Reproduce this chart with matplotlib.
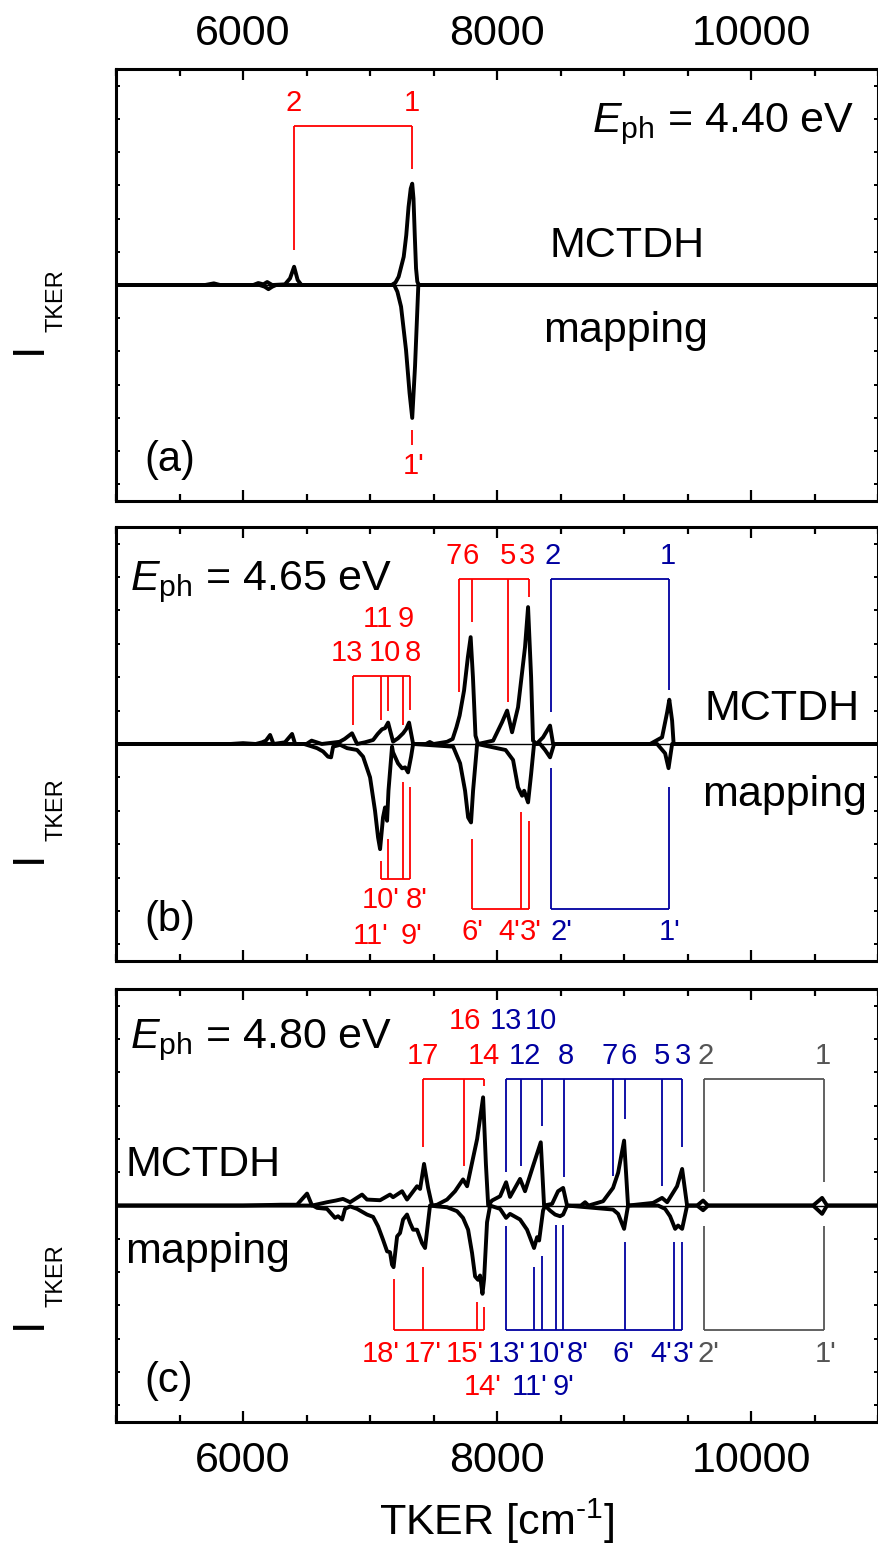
import numpy as np
import matplotlib.pyplot as plt
from matplotlib import font_manager
from matplotlib.ticker import MultipleLocator

plt.rcParams['font.family'] = ['Liberation Sans', 'DejaVu Sans']
plt.rcParams['mathtext.fontset'] = 'custom'
plt.rcParams['mathtext.rm'] = 'Liberation Sans'
plt.rcParams['mathtext.it'] = 'Liberation Sans:italic'
plt.rcParams['mathtext.bf'] = 'Liberation Sans:bold'

RED = '#ff0000'
BLUE = '#0000a0'
GRAY = '#555555'

# narrow face for the peak labels if it is there
installed = {f.name for f in font_manager.fontManager.ttflist}
if 'Liberation Sans Narrow' in installed:
    LABEL_FONT, LABEL_SIZE = 'Liberation Sans Narrow', 25
else:
    LABEL_FONT, LABEL_SIZE = 'Liberation Sans', 21

# ---- spectra (TKER in cm^-1, intensity in arbitrary units) ----
mctdh_a = [(5000, 0), (5700, 0), (5770, 0.01), (5820, 0), (6080, 0), (6120, 0.012),
           (6160, 0.004), (6190, 0.018), (6230, 0), (6330, 0.004), (6370, 0.04),
           (6402, 0.11), (6430, 0.03), (6460, 0), (7170, 0), (7200, 0.015), (7225, 0.05),
           (7265, 0.17), (7285, 0.30), (7303, 0.47), (7320, 0.58), (7332, 0.61),
           (7342, 0.52), (7352, 0.30), (7362, 0.10), (7372, 0.02), (7385, 0), (11000, 0)]
mapping_a = [(5000, 0), (6130, 0), (6170, -0.01), (6200, -0.025), (6230, -0.01), (6260, 0),
             (7190, 0), (7215, -0.04), (7244, -0.13), (7283, -0.39), (7311, -0.65),
             (7332, -0.80), (7354, -0.49), (7370, -0.19), (7380, 0), (11000, 0)]

mctdh_b = [(5000, 0), (5900, 0), (6000, 0.005), (6100, 0), (6150, 0.01), (6180, 0.02),
           (6213, 0.054), (6240, 0), (6330, 0.01), (6386, 0.06), (6410, 0), (6500, 0),
           (6540, 0.02), (6580, 0.01), (6620, 0), (6760, 0.013), (6800, 0.03), (6858, 0.064),
           (6898, 0), (6960, 0.01), (7024, 0.024), (7060, 0.06), (7094, 0.088), (7118, 0.095),
           (7142, 0.128), (7181, 0.014), (7220, 0.034), (7260, 0.064), (7285, 0.09),
           (7307, 0.128), (7339, 0), (7440, 0), (7470, 0.012), (7500, 0), (7606, 0.013),
           (7650, 0.03), (7680, 0.10), (7705, 0.17), (7740, 0.32), (7770, 0.52), (7792, 0.64),
           (7810, 0.40), (7830, 0.05), (7850, 0), (7969, 0.02), (8039, 0.13), (8079, 0.20),
           (8118, 0.07), (8165, 0.22), (8220, 0.58), (8244, 0.82), (8268, 0.40), (8283, 0.02),
           (8310, 0), (8362, 0.04), (8417, 0.11), (8441, 0), (9205, 0), (9299, 0.04),
           (9339, 0.19), (9356, 0.265), (9378, 0.14), (9390, 0), (11000, 0)]
mapping_b = [(5000, 0), (6480, 0), (6530, -0.012), (6583, -0.025), (6630, -0.045),
             (6669, -0.076), (6693, -0.08), (6709, -0.016), (6764, -0.005), (6819, -0.025),
             (6898, -0.036), (6945, -0.076), (7000, -0.20), (7039, -0.40), (7063, -0.56),
             (7079, -0.63), (7102, -0.44), (7118, -0.38), (7134, -0.46), (7145, -0.28),
             (7173, -0.016), (7181, -0.05), (7220, -0.116), (7252, -0.146), (7276, -0.14),
             (7299, -0.17), (7323, -0.076), (7339, 0), (7654, -0.016), (7709, -0.116),
             (7748, -0.28), (7772, -0.44), (7795, -0.47), (7811, -0.28), (7843, 0),
             (8067, -0.036), (8126, -0.096), (8165, -0.26), (8197, -0.31), (8213, -0.28),
             (8244, -0.35), (8268, -0.18), (8291, 0), (8339, 0), (8378, -0.036),
             (8417, -0.08), (8449, 0), (9260, 0), (9323, -0.056), (9350, -0.145),
             (9378, 0), (11000, 0)]

mctdh_c = [(5000, 0), (6000, 0), (6300, 0.005), (6425, 0.005), (6504, 0.072), (6543, 0),
           (6661, 0.02), (6730, 0.03), (6787, 0.04), (6843, 0.02), (6937, 0.066),
           (6976, 0.036), (7079, 0.032), (7157, 0.066), (7181, 0.05), (7252, 0.086),
           (7291, 0.036), (7370, 0.116), (7394, 0.10), (7425, 0.25), (7457, 0.106),
           (7488, 0), (7528, 0.005), (7606, 0.036), (7669, 0.086), (7732, 0.157),
           (7764, 0.116), (7803, 0.257), (7843, 0.40), (7890, 0.65), (7912, 0.25),
           (7930, 0), (7960, 0.03), (8024, 0.056), (8071, 0.14), (8102, 0.052), (8181, 0.16),
           (8220, 0.086), (8283, 0.237), (8344, 0.38), (8370, 0), (8433, 0.01), (8480, 0.086),
           (8520, 0.106), (8551, 0), (8660, 0), (8693, 0.02), (8720, 0), (8835, 0.026),
           (8913, 0.106), (8953, 0.197), (9000, 0.39), (9031, 0), (9228, 0.016),
           (9299, 0.046), (9339, 0.02), (9417, 0.116), (9457, 0.22), (9496, 0), (9575, 0),
           (9622, 0.03), (9661, 0), (10488, 0), (10559, 0.046), (10598, 0), (11000, 0)]
mapping_c = [(5000, 0), (6550, 0), (6583, -0.014), (6661, -0.02), (6724, -0.074),
             (6748, -0.064), (6780, -0.084), (6803, -0.02), (6843, -0.005), (6898, -0.02),
             (6976, -0.054), (7024, -0.068), (7063, -0.125), (7102, -0.205), (7134, -0.275),
             (7157, -0.28), (7173, -0.355), (7185, -0.37), (7213, -0.185), (7236, -0.165),
             (7260, -0.084), (7291, -0.054), (7315, -0.104), (7339, -0.145), (7370, -0.145),
             (7409, -0.225), (7433, -0.255), (7449, -0.15), (7472, 0), (7528, -0.005),
             (7606, -0.01), (7685, -0.034), (7732, -0.074), (7772, -0.145), (7803, -0.285),
             (7827, -0.426), (7850, -0.446), (7866, -0.42), (7885, -0.53), (7898, -0.44),
             (7921, -0.10), (7945, 0), (8024, -0.02), (8071, -0.074), (8102, -0.05),
             (8181, -0.084), (8236, -0.145), (8276, -0.225), (8291, -0.255), (8315, -0.19),
             (8331, -0.21), (8362, -0.03), (8378, 0), (8417, -0.03), (8457, -0.054),
             (8496, -0.064), (8520, -0.054), (8551, 0), (8913, -0.024), (8953, -0.05),
             (9000, -0.14), (9031, 0), (9268, 0), (9323, -0.02), (9362, -0.064),
             (9402, -0.14), (9425, -0.12), (9457, -0.14), (9496, 0), (9575, 0),
             (9622, -0.028), (9661, 0), (10488, 0), (10559, -0.05), (10598, 0), (11000, 0)]

# ---- peak assignments: (colour, bracket level, peak positions, line ends) ----
assign_a = [
    (RED, 0.96, [6402, 7331], [0.21, 0.70]),
    (RED, -0.96, [7331], [-0.87]),
]
assign_b = [
    (RED, 0.99, [7701, 7801, 8089, 8252], [0.31, 0.73, 0.25, 0.88]),
    (RED, 0.41, [6866, 7087, 7142, 7260, 7315], [0.115, 0.145, 0.20, 0.115, 0.205]),
    (BLUE, 0.99, [8423, 9354], [0.19, 0.325]),
    (RED, -0.99, [7801, 8189, 8252], [-0.57, -0.41, -0.46]),
    (RED, -0.81, [7084, 7144, 7257, 7315], [-0.70, -0.57, -0.23, -0.26]),
    (BLUE, -0.99, [8423, 9354], [-0.145, -0.26]),
]
assign_c = [
    (RED, 0.76, [7417, 7740, 7899], [0.35, 0.24, 0.72]),
    (BLUE, 0.76, [8071, 8189, 8352, 8528, 8911, 9005, 9297, 9459],
     [0.20, 0.24, 0.48, 0.17, 0.175, 0.52, 0.12, 0.35]),
    (GRAY, 0.76, [9630, 10575], [0.08, 0.14]),
    (RED, -0.75, [7189, 7417, 7840, 7899], [-0.44, -0.37, -0.58, -0.61]),
    (BLUE, -0.75, [8071, 8291, 8352, 8465, 8522, 9008, 9396, 9459],
     [-0.125, -0.37, -0.30, -0.115, -0.115, -0.22, -0.22, -0.22]),
    (GRAY, -0.75, [9630, 10575], [-0.125, -0.125]),
]

# ---- assignment labels: (x, baseline y, text, colour) ----
labels_a = [(6402, 1.05, '2', RED), (7331, 1.05, '1', RED), (7343, -1.14, "1'", RED)]
labels_b = [
    (7661, 1.08, '7', RED), (7795, 1.08, '6', RED), (8087, 1.08, '5', RED),
    (8236, 1.08, '3', RED), (8441, 1.08, '2', BLUE), (9345, 1.08, '1', BLUE),
    (6819, 0.50, '13', RED), (7118, 0.50, '10', RED), (7339, 0.50, '8', RED),
    (7063, 0.70, '11', RED), (7283, 0.70, '9', RED),
    (7087, -0.985, "10'", RED), (7370, -0.985, "8'", RED),
    (7008, -1.20, "11'", RED), (7323, -1.20, "9'", RED),
    (7803, -1.175, "6'", RED), (8094, -1.175, "4'", RED), (8268, -1.175, "3'", RED),
    (8504, -1.175, "2'", BLUE), (9362, -1.175, "1'", BLUE),
]
labels_c = [
    (7417, 0.85, '17', RED), (7898, 0.85, '14', RED), (7748, 1.06, '16', RED),
    (8220, 0.85, '12', BLUE), (8543, 0.85, '8', BLUE), (8890, 0.85, '7', BLUE),
    (9032, 0.85, '6', BLUE), (9299, 0.85, '5', BLUE), (9465, 0.85, '3', BLUE),
    (8071, 1.06, '13', BLUE), (8347, 1.06, '10', BLUE),
    (9638, 0.85, '2', GRAY), (10567, 0.85, '1', GRAY),
    (7087, -0.94, "18'", RED), (7417, -0.94, "17'", RED), (7748, -0.94, "15'", RED),
    (7890, -1.14, "14'", RED),
    (8079, -0.94, "13'", BLUE), (8394, -0.94, "10'", BLUE), (8638, -0.94, "8'", BLUE),
    (8992, -0.94, "6'", BLUE), (9291, -0.94, "4'", BLUE), (9472, -0.94, "3'", BLUE),
    (8260, -1.14, "11'", BLUE), (8520, -1.14, "9'", BLUE),
    (9661, -0.94, "2'", GRAY), (10583, -0.94, "1'", GRAY),
]

energies = ['4.40', '4.65', '4.80']
tags = ['(a)', '(b)', '(c)']

# axes rectangles in figure fraction
rects = [(0.132, 0.6755, 0.867, 0.2798),
         (0.132, 0.3776, 0.867, 0.2811),
         (0.132, 0.0790, 0.867, 0.2804)]
# vertical offset (px, downwards) of the y label from the panel centre
ylab_shift = [0, 50, 54]

fig = plt.figure(figsize=(8.79, 15.44), dpi=100)

panels = [
    (mctdh_a, mapping_a, assign_a, labels_a),
    (mctdh_b, mapping_b, assign_b, labels_b),
    (mctdh_c, mapping_c, assign_c, labels_c),
]

for i, (mc, mp, assign, labels) in enumerate(panels):
    ax = fig.add_axes(rects[i])
    ax.set_xlim(5000, 11000)
    ax.set_ylim(-1.3, 1.3)

    ax.axhline(0, color='black', lw=1.0, zorder=2)
    for curve in (mc, mp):
        x, y = zip(*curve)
        ax.plot(x, y, color='black', lw=2.8, solid_joinstyle='round', zorder=3)

    for color, bar_y, xs, tips in assign:
        ax.hlines(bar_y, min(xs), max(xs), color=color, lw=1.3)
        ax.vlines(xs, tips, bar_y, color=color, lw=1.3)
    for x, y, s, color in labels:
        ax.text(x, y, s, color=color, fontsize=LABEL_SIZE, family=LABEL_FONT,
                ha='center', va='baseline')

    ax.xaxis.set_major_locator(MultipleLocator(2000))
    ax.xaxis.set_minor_locator(MultipleLocator(500))
    ax.yaxis.set_major_locator(MultipleLocator(0.2))
    ax.tick_params(axis='x', which='both', direction='in', top=True, bottom=True,
                   width=1.6, labelsize=31, labelbottom=(i == 2), labeltop=(i == 0),
                   pad=14 if i == 2 else 11)
    ax.tick_params(axis='x', which='major', length=8)
    ax.tick_params(axis='x', which='minor', length=5)
    ax.tick_params(axis='y', which='both', direction='in', left=True, right=True,
                   length=3, width=1.4, labelleft=False)
    for sp in ax.spines.values():
        sp.set_linewidth(2.2)

    # photon energy, method names and panel tag
    etxt = r'$E_{\mathrm{ph}}$ = ' + energies[i] + ' eV'
    if i == 0:
        ax.text(8748, 0.92, etxt, fontsize=31, ha='left', va='baseline')
        ax.text(9024, 0.17, 'MCTDH', fontsize=31, ha='center', va='baseline')
        ax.text(9008, -0.34, 'mapping', fontsize=31, ha='center', va='baseline')
    elif i == 1:
        ax.text(5110, 0.92, etxt, fontsize=31, ha='left', va='baseline')
        ax.text(10244, 0.145, 'MCTDH', fontsize=31, ha='center', va='baseline')
        ax.text(10260, -0.37, 'mapping', fontsize=31, ha='center', va='baseline')
    else:
        ax.text(5110, 0.946, etxt, fontsize=31, ha='left', va='baseline')
        ax.text(5071, 0.175, 'MCTDH', fontsize=31, ha='left', va='baseline')
        ax.text(5071, -0.343, 'mapping', fontsize=31, ha='left', va='baseline')
    ax.text(5220, -1.12, tags[i], fontsize=30, ha='left', va='baseline')

    # y label I_TKER, drawn as a big I with a rotated subscript
    yc = rects[i][1] + rects[i][3] / 2 - ylab_shift[i] / 1544
    fig.text(29 / 879, yc - 63 / 1544, 'I', fontsize=32, rotation=90,
             ha='center', va='center')
    fig.text(57 / 879, yc - 16 / 1544, 'TKER', fontsize=17, rotation=90,
             ha='center', va='center')

fig.text(497 / 879, 0.0058, r'TKER [cm$^{\text{-1}}$]', fontsize=31,
         ha='center', va='baseline')

fig.savefig('out.png', dpi=100)
